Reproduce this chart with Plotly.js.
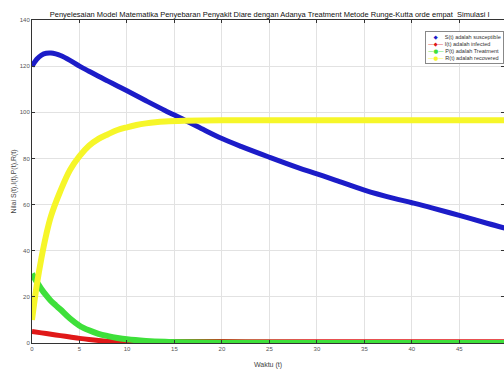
<!DOCTYPE html>
<html>
<head>
<meta charset="utf-8">
<script src="https://cdn.plot.ly/plotly-3.0.1.min.js"></script>
<style>html,body{margin:0;padding:0;background:#fff;overflow:hidden;}</style>
</head>
<body>
<div id="chart" style="width:504px;height:373px;"></div>
<script>
// Time points and series values
const tS = [0,0.5,1,1.5,2,2.5,3,4,5,6,7,8,9,10,12,14,16,18,20,22,25,28,30,32,35,38,40,42,45,48,50];
const S  = [120,123,124.8,125.6,125.7,125.3,124.6,122.5,120,117.8,115.6,113.5,111.4,109.3,105,100.8,96.8,92.6,88.6,85.2,80.5,76,73.3,70.5,66.3,62.8,60.8,58.7,55.3,51.8,49.6];

const tI = [0,1,2,3,4,5,6,7,8,9,10,12,15,20,25,30,40,50];
const I  = [5,4.4,3.8,3.2,2.6,2.0,1.5,1.1,0.8,0.65,0.6,0.6,0.6,0.6,0.55,0.5,0.5,0.5];

const tP = [0,0.5,1,1.5,2,2.5,3,4,5,6,7,8,9,10,12,14,16,20,30,50];
const P  = [30,26.5,23.3,20.6,18.2,16.3,14.5,10.6,7.5,5.5,4.0,3.0,2.2,1.6,0.9,0.5,0.3,0.15,0.05,0];

const tR = [0,0.5,1,1.5,2,3,4,5,6,7,8,9,10,11,12,13,14,16,20,30,50];
const R  = [10,25,37,47,55,66,75,81,85.5,88.5,90.5,92.3,93.5,94.5,95.2,95.7,96,96.3,96.5,96.5,96.5];

const names = ["S(t) adalah susceptible","I(t) adalah infected","P(t) adalah Treatment","R(t) adalah recovered"];
const colors = ["#1c1cc8","#e01818","#3ee03a","#f6f629"];
const legendSymbols = ["&#8195;◆&#8195;","—◆—","—●—","—●—"];
const xTicks = [0,5,10,15,20,25,30,35,40,45,50];
const yTicks = [0,20,40,60,80,100,120,140];

const FONT = "Liberation Sans, Arial, sans-serif";

const series = [[tS,S],[tI,I],[tP,P],[tR,R]];
const widths = [5,5,6,6];
const traces = series.map((d,i) => ({
  x:d[0], y:d[1], name:names[i], mode:"lines", showlegend:false,
  line:{color:colors[i], width:widths[i], shape:"spline"}
}));

// Legend drawn as a boxed annotation (compact MATLAB-style)
const legendText = names.map((n,i) =>
  "<span style='color:" + colors[i] + ";font-family:DejaVu Sans'>" + legendSymbols[i] + "</span> " + n
).join("<br>");

const axisCommon = {
  showline:true, linecolor:"#333", linewidth:1, mirror:"ticks",
  ticks:"inside", ticklen:3, tickcolor:"#333",
  showgrid:true, gridcolor:"#e2e2e2", gridwidth:1,
  zeroline:false,
  tickfont:{family:FONT, size:6, color:"#555"}
};

const layout = {
  width:504, height:373,
  margin:{l:32, r:0, t:20, b:30},
  paper_bgcolor:"#fff", plot_bgcolor:"#fff",
  font:{family:FONT, color:"#333"},
  title:{text:"Penyelesaian Model Matematika Penyebaran Penyakit Diare dengan Adanya Treatment Metode Runge-Kutta orde empat  Simulasi I",
         font:{family:FONT, size:7.5, color:"#111"}, x:0.535, xanchor:"center", y:0.962, yanchor:"middle", yref:"container"},
  xaxis:Object.assign({}, axisCommon, {range:[0,49.7], tickvals:xTicks,
         title:{text:"Waktu (t)", font:{family:FONT, size:7, color:"#444"}, standoff:10}}),
  yaxis:Object.assign({}, axisCommon, {range:[0,140], tickvals:yTicks,
         title:{text:"Nilai S(t),I(t),P(t),R(t)", font:{family:FONT, size:7, color:"#444"}, standoff:2}}),
  showlegend:false,
  annotations:[{
    xref:"paper", yref:"paper", x:0.833, y:0.966, xanchor:"left", yanchor:"top",
    text:legendText, showarrow:false, align:"left",
    font:{family:FONT, size:5.5, color:"#333"},
    bgcolor:"#fff", bordercolor:"#888", borderwidth:1, borderpad:2
  }]
};

Plotly.newPlot("chart", traces, layout, {displayModeBar:false, staticPlot:true});
</script>
</body>
</html>
